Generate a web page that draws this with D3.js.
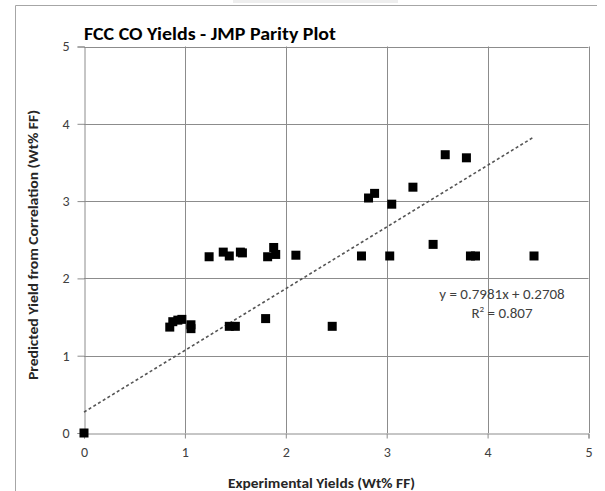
<!DOCTYPE html>
<html>
<head>
<meta charset="utf-8">
<script src="https://cdn.jsdelivr.net/npm/d3@7"></script>
<style>
  body { margin: 0; background: #fff; }
  svg { display: block; font-family: Carlito, "Liberation Sans", Arial, sans-serif; }
</style>
</head>
<body>
<div id="chart"></div>
<script>
// experimental yields (x) and predicted yields (y), Wt% FF
const expYield = [0, 0.85, 0.88, 0.93, 0.97, 1.06, 1.06, 1.24, 1.38, 1.44, 1.44, 1.50,
  1.55, 1.57, 1.80, 1.82, 1.88, 1.90, 2.10, 2.46, 2.75, 2.82, 2.88, 3.03, 3.05,
  3.26, 3.46, 3.58, 3.79, 3.83, 3.88, 4.46];
const predYield = [0, 1.37, 1.44, 1.46, 1.47, 1.40, 1.35, 2.28, 2.34, 2.29, 1.38, 1.38,
  2.34, 2.33, 1.48, 2.28, 2.40, 2.31, 2.30, 1.38, 2.29, 3.04, 3.10, 2.29, 2.96,
  3.18, 2.44, 3.60, 3.56, 2.29, 2.29, 2.29];
const slope = 0.7981;
const intercept = 0.2708;
const xTicks = [0, 1, 2, 3, 4, 5];
const yTicks = [0, 1, 2, 3, 4, 5];

const width = 605, height = 491;
const svg = d3.select('#chart').append('svg')
  .attr('width', width)
  .attr('height', height);

// outer chart frame (left/top edges only visible)
svg.append('path')
  .attr('d', 'M15.5,500 V5.5 H597')
  .attr('fill', 'none')
  .attr('stroke', '#a6a6a6');
svg.append('rect')
  .attr('x', 233).attr('y', 0)
  .attr('width', 165).attr('height', 3)
  .attr('fill', '#eeeeee');

const x = d3.scaleLinear().domain([0, 5]).range([84, 588.5]);
const y = d3.scaleLinear().domain([0, 5]).range([433, 46.5]);

// gridlines
svg.append('g').selectAll('line')
  .data(xTicks.slice(1))
  .join('line')
  .attr('x1', d => Math.round(x(d)) + 0.5).attr('x2', d => Math.round(x(d)) + 0.5)
  .attr('y1', y(5)).attr('y2', y(0))
  .attr('stroke', '#8c8c8c');
svg.append('g').selectAll('line')
  .data(yTicks.slice(1))
  .join('line')
  .attr('x1', x(0)).attr('x2', x(5))
  .attr('y1', d => Math.round(y(d)) + 0.5).attr('y2', d => Math.round(y(d)) + 0.5)
  .attr('stroke', '#8c8c8c');

// axes
const xAxis = svg.append('g')
  .attr('transform', `translate(0,${Math.round(y(0)) + 0.5})`)
  .call(d3.axisBottom(x).tickValues(xTicks).tickFormat(d3.format('d')).tickSize(5).tickPadding(9));
const yAxis = svg.append('g')
  .attr('transform', `translate(${Math.round(x(0)) + 0.5},0)`)
  .call(d3.axisLeft(y).tickValues(yTicks).tickFormat(d3.format('d')).tickSize(7).tickPadding(8));
[xAxis, yAxis].forEach(ax => {
  ax.select('.domain').attr('stroke', '#8c8c8c');
  ax.selectAll('.tick line').attr('stroke', '#8c8c8c');
  ax.selectAll('.tick text')
    .attr('fill', '#404040')
    .style('font-size', '14px')
    .style('font-family', 'Carlito, "Liberation Sans", Arial, sans-serif');
});

// trendline
const xMax = d3.max(expYield);
svg.append('line')
  .attr('x1', x(0)).attr('y1', y(intercept))
  .attr('x2', x(xMax)).attr('y2', y(slope * xMax + intercept))
  .attr('stroke', '#555')
  .attr('stroke-width', 1.6)
  .attr('stroke-dasharray', '3,2.5');

// points
const pts = expYield.map((v, i) => [v, predYield[i]]);
svg.append('g').selectAll('rect')
  .data(pts)
  .join('rect')
  .attr('x', d => x(d[0]) - 4.5)
  .attr('y', d => y(d[1]) - 4.5)
  .attr('width', 9)
  .attr('height', 9)
  .attr('fill', '#000');

// equation
const eq = svg.append('text')
  .attr('x', 502).attr('y', 299)
  .attr('text-anchor', 'middle')
  .attr('fill', '#404040')
  .style('font-size', '15px');
eq.text(`y = ${slope}x + ${intercept}`);
const r2 = svg.append('text')
  .attr('x', 502).attr('y', 318)
  .attr('text-anchor', 'middle')
  .attr('fill', '#404040')
  .style('font-size', '15px');
r2.append('tspan').text('R');
r2.append('tspan').attr('dy', -6).style('font-size', '9px').text('2');
r2.append('tspan').attr('dy', 6).text(' = 0.807');

// titles
svg.append('text')
  .attr('x', 84).attr('y', 40)
  .attr('font-weight', 'bold')
  .style('font-size', '19px')
  .attr('textLength', 252)
  .attr('lengthAdjust', 'spacingAndGlyphs')
  .attr('fill', '#000')
  .text('FCC CO Yields - JMP Parity Plot');
svg.append('text')
  .attr('x', 228).attr('y', 488)
  .attr('font-weight', 'bold')
  .style('font-size', '14px')
  .attr('textLength', 187)
  .attr('lengthAdjust', 'spacingAndGlyphs')
  .attr('fill', '#262626')
  .text('Experimental Yields (Wt% FF)');
svg.append('text')
  .attr('transform', 'translate(38,380) rotate(-90)')
  .attr('font-weight', 'bold')
  .style('font-size', '13px')
  .attr('textLength', 270)
  .attr('lengthAdjust', 'spacingAndGlyphs')
  .attr('fill', '#262626')
  .text('Predicted Yield from Correlation  (Wt% FF)');
</script>
</body>
</html>
